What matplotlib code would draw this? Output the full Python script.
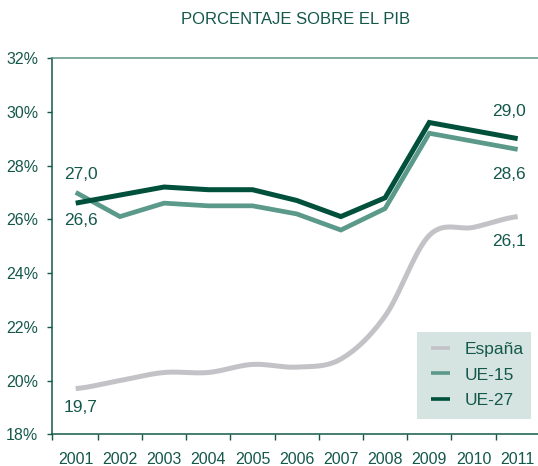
import numpy as np
import matplotlib
matplotlib.use("Agg")
import matplotlib.pyplot as plt
from matplotlib.lines import Line2D
from matplotlib.patches import Rectangle

# ---- data ----
years = ["2001", "2002", "2003", "2004", "2005", "2006", "2007", "2008", "2009", "2010", "2011"]
espana = [19.7, 20.0, 20.3, 20.3, 20.6, 20.5, 20.8, 22.4, 25.4, 25.7, 26.1]
ue15 = [27.0, 26.1, 26.6, 26.5, 26.5, 26.2, 25.6, 26.4, 29.2, 28.9, 28.6]
ue27 = [26.6, 26.9, 27.2, 27.1, 27.1, 26.7, 26.1, 26.8, 29.6, 29.3, 29.0]
yticks = [18, 20, 22, 24, 26, 28, 30, 32]
title = "PORCENTAJE SOBRE EL PIB"
series_names = ["España", "UE-15", "UE-27"]

# ---- style ----
TXT = "#14584A"
C_ES = "#C3C3C7"
C_15 = "#5B998A"
C_27 = "#00503C"
LEG_BG = "#D5E4E1"
plt.rcParams['font.family'] = ['Liberation Sans Narrow', 'Liberation Sans', 'DejaVu Sans']

W, H = 538, 466
fig = plt.figure(figsize=(W / 100, H / 100), dpi=100)
L, R, B, T = 52.3, 538.0, 434.3, 58.0
ax = fig.add_axes([L / W, (H - B) / H, (R - L) / W, (B - T) / H])


def smooth(xs, ys, n=30):
    """Catmull-Rom style smoothing for display (like a spreadsheet's smoothed line)."""
    xs = np.asarray(xs, float)
    ys = np.asarray(ys, float)
    px = np.concatenate([[2 * xs[0] - xs[1]], xs, [2 * xs[-1] - xs[-2]]])
    py = np.concatenate([[ys[0]], ys, [ys[-1]]])
    outx, outy = [], []
    for i in range(1, len(px) - 2):
        t = np.linspace(0, 1, n, endpoint=False)
        m0x = (px[i + 1] - px[i - 1]) / 2
        m1x = (px[i + 2] - px[i]) / 2
        m0y = (py[i + 1] - py[i - 1]) / 2
        m1y = (py[i + 2] - py[i]) / 2
        h00 = 2 * t**3 - 3 * t**2 + 1
        h10 = t**3 - 2 * t**2 + t
        h01 = -2 * t**3 + 3 * t**2
        h11 = t**3 - t**2
        outx.append(h00 * px[i] + h10 * m0x + h01 * px[i + 1] + h11 * m1x)
        outy.append(h00 * py[i] + h10 * m0y + h01 * py[i + 1] + h11 * m1y)
    outx.append([xs[-1]])
    outy.append([ys[-1]])
    return np.concatenate(outx), np.concatenate(outy)


x = np.arange(len(years))
sx, sy = smooth(x, espana)
ax.plot(sx, sy, color=C_ES, lw=3.6, solid_capstyle='butt', zorder=2)
ax.plot(x, ue15, color=C_15, lw=3.4, solid_joinstyle='miter', solid_capstyle='butt', zorder=3)
ax.plot(x, ue27, color=C_27, lw=3.6, solid_joinstyle='miter', solid_capstyle='butt', zorder=4)

ax.set_xlim(-0.53, 10.46)
ax.set_ylim(18, 32)

ax.set_yticks(yticks)
ax.set_yticklabels([f"{v}%" for v in yticks])
ax.set_xticks(list(x))
ax.set_xticklabels(years)
ax.set_xticks([-0.53] + [i + 0.5 for i in range(10)], minor=True)
ax.tick_params(axis='x', which='major', length=0, pad=13, labelsize=11.5, labelcolor=TXT)
ax.tick_params(axis='x', which='minor', length=4.3, width=1.0, color=TXT, direction='out')
ax.tick_params(axis='y', length=3.6, width=1.0, color=TXT, direction='out', pad=6.5,
               labelsize=11.5, labelcolor=TXT)

for s in ['left', 'bottom']:
    ax.spines[s].set_color(TXT)
    ax.spines[s].set_linewidth(1.1)
ax.spines['top'].set_color("#5E9788")
ax.spines['top'].set_linewidth(1.1)
ax.spines['right'].set_visible(False)

# data labels
lab_kw = dict(color=TXT, fontsize=12.5, ha='center', va='center')
ax.text(0.12, 27.68, f"{ue15[0]:.1f}".replace('.', ','), **lab_kw)
ax.text(0.12, 25.94, f"{ue27[0]:.1f}".replace('.', ','), **lab_kw)
ax.text(0.12, 19.0, f"{espana[0]:.1f}".replace('.', ','), **lab_kw)
ax.text(9.8, 30.0, f"{ue27[-1]:.1f}".replace('.', ','), **lab_kw)
ax.text(9.8, 27.65, f"{ue15[-1]:.1f}".replace('.', ','), **lab_kw)
ax.text(9.8, 25.17, f"{espana[-1]:.1f}".replace('.', ','), **lab_kw)

# title
fig.text(296 / W, 1 - 19 / H, title, color=TXT, fontsize=12, ha='center', va='center')

# legend
lx0, ly0, lx1, ly1 = 416.7, 332.3, 530.7, 419.3
ax.add_patch(Rectangle((lx0 / W, 1 - ly1 / H), (lx1 - lx0) / W, (ly1 - ly0) / H,
                       transform=fig.transFigure, facecolor=LEG_BG, edgecolor='none',
                       zorder=5, clip_on=False))
handles = [Line2D([], [], color=c, lw=2.6, solid_capstyle='butt') for c in (C_ES, C_15, C_27)]
leg_fs = 12.5
fs_px = leg_fs * 100 / 72
leg = ax.legend(handles, series_names, loc='upper left',
                bbox_to_anchor=(430.7 / W, 1 - 341.5 / H), bbox_transform=fig.transFigure,
                frameon=False, borderpad=0, borderaxespad=0,
                handlelength=19 / fs_px, handletextpad=15 / fs_px, labelspacing=0.62,
                fontsize=leg_fs)
leg.set_zorder(6)
for t in leg.get_texts():
    t.set_color(TXT)

fig.savefig("out.png", dpi=100)
